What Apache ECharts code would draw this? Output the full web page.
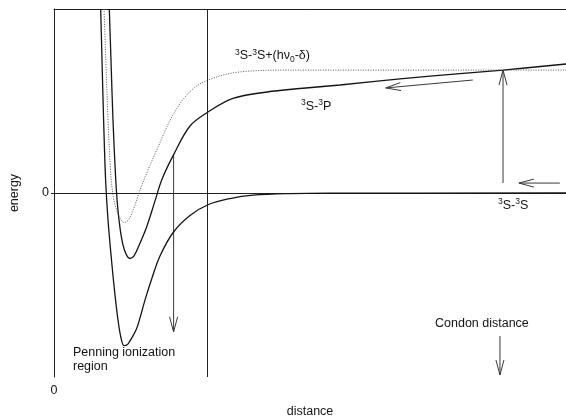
<!DOCTYPE html>
<html>
<head>
<meta charset="utf-8">
<script src="https://cdn.jsdelivr.net/npm/echarts@6/dist/echarts.min.js"></script>
<style>
  html, body { margin: 0; padding: 0; background: #fff; }
  #chart { width: 566px; height: 416px; }
</style>
</head>
<body>
<div id="chart"></div>
<script>
// Potential energy curves, [distance, energy] in arbitrary units
const groundCurve = [ // 3S-3S
  [0.912, 1.0], [0.9375, 0.723], [0.969, 0.397], [1.008, 0.071], [1.055, -0.147],
  [1.123, -0.364], [1.191, -0.554], [1.25, -0.690], [1.309, -0.788], [1.367, -0.829],
  [1.436, -0.823], [1.484, -0.804], [1.602, -0.745], [1.68, -0.679], [1.777, -0.582],
  [1.914, -0.462], [2.07, -0.342], [2.334, -0.212], [2.656, -0.122], [3.018, -0.0625],
  [3.44, -0.030], [3.887, -0.012], [4.609, -0.003], [5.39, -0.0005], [10, 0]
];
const excitedCurve = [ // 3S-3P
  [1.08, 1.0], [1.113, 0.723], [1.152, 0.397], [1.201, 0.098], [1.240, -0.065],
  [1.289, -0.190], [1.348, -0.283], [1.416, -0.337], [1.484, -0.356], [1.563, -0.342],
  [1.68, -0.272], [1.811, -0.183], [1.973, -0.043], [2.104, 0.071], [2.334, 0.207],
  [2.656, 0.364], [3.008, 0.440], [3.496, 0.514], [4.160, 0.549], [4.805, 0.568],
  [5.586, 0.587], [6.758, 0.620], [7.930, 0.649], [8.770, 0.668], [10, 0.701]
];
const dressedCurve = [ // 3S-3S + (h nu0 - delta)
  [0.977, 1.0], [1.012, 0.723], [1.055, 0.397], [1.104, 0.125], [1.152, -0.011],
  [1.211, -0.082], [1.279, -0.130], [1.367, -0.160], [1.445, -0.149], [1.523, -0.109],
  [1.602, -0.049], [1.68, 0.016], [1.836, 0.125], [2.006, 0.234], [2.324, 0.424],
  [2.656, 0.551], [3.008, 0.614], [3.633, 0.658], [4.609, 0.668], [10, 0.668]
];
// Boundary of the Penning ionization region
const penningEdge = 3.0;
// Arrows: [xFrom, yFrom, xTo, yTo]
const arrows = [
  [2.336, 0.207, 2.336, -0.755],   // decay inside the ionization region
  [8.77, 0.054, 8.77, 0.668],      // excitation at the Condon distance
  [9.88, 0.054, 9.08, 0.054],      // incoming pair on the ground curve
  [8.18, 0.614, 6.48, 0.571],      // motion along the excited curve
  [8.71, -0.777, 8.71, -0.989]     // Condon distance marker
];
const xTickValues = [0];
const xTickLabels = ['0'];
const yTickValues = [0];
const yTickLabels = ['0'];

const FONT = '"Liberation Sans", Arial, Helvetica, sans-serif';
const INK = '#141414';

const chart = echarts.init(document.getElementById('chart'), null, { renderer: 'canvas' });

function arrowItem(params, api) {
  const p1 = api.coord([api.value(0), api.value(1)]);
  const p2 = api.coord([api.value(2), api.value(3)]);
  const dx = p2[0] - p1[0], dy = p2[1] - p1[1];
  const len = Math.hypot(dx, dy) || 1;
  const ux = dx / len, uy = dy / len;
  const headLen = 15, headHalf = 4;
  const bx = p2[0] - ux * headLen, by = p2[1] - uy * headLen;
  const nx = -uy, ny = ux;
  const stroke = { stroke: '#3a3a3a', lineWidth: 1, fill: null };
  return {
    type: 'group',
    children: [
      { type: 'line', shape: { x1: p1[0], y1: p1[1], x2: p2[0], y2: p2[1] }, style: stroke },
      { type: 'polyline', shape: { points: [[bx + nx * headHalf, by + ny * headHalf], p2, [bx - nx * headHalf, by - ny * headHalf]] }, style: stroke }
    ]
  };
}

const supRich = {
  s: { fontSize: 8.5, fontFamily: FONT, color: INK, verticalAlign: 'top', lineHeight: 4 },
  b: { fontSize: 8.5, fontFamily: FONT, color: INK, verticalAlign: 'bottom', lineHeight: 10 }
};

function label(x, y, text, rich) {
  return {
    type: 'text', x: x, y: y, silent: true,
    style: {
      text: text, fill: INK, fontSize: 12.5, fontFamily: FONT,
      lineHeight: 16, verticalAlign: 'top', rich: rich
    }
  };
}

const option = {
  animation: false,
  backgroundColor: '#fff',
  grid: { left: 54, right: 0, top: 9, bottom: 39, outerBoundsMode: 'none', containLabel: false },
  xAxis: [
    {
      type: 'value', min: 0, max: 10,
      name: 'distance', nameLocation: 'middle', nameGap: 28,
      nameTextStyle: { fontSize: 12.5, fontFamily: FONT, color: INK },
      axisLine: { show: true, lineStyle: { color: '#222', width: 1 } },
      axisTick: { show: false },
      splitLine: { show: false },
      axisLabel: {
        customValues: xTickValues, margin: 7, fontSize: 12.5, fontFamily: FONT, color: INK,
        formatter: v => xTickLabels[xTickValues.indexOf(v)] ?? ''
      }
    },
    {
      type: 'value', min: 0, max: 10, position: 'top',
      axisLine: { show: true, onZero: false, lineStyle: { color: '#222', width: 1 } },
      axisTick: { show: false }, axisLabel: { show: false }, splitLine: { show: false }
    }
  ],
  yAxis: {
    type: 'value', min: -1, max: 1, interval: 1,
    name: 'energy', nameLocation: 'middle', nameGap: 33, nameRotate: 90,
    nameTextStyle: { fontSize: 12.5, fontFamily: FONT, color: INK },
    axisLine: { show: true, lineStyle: { color: '#222', width: 1 } },
    axisTick: { show: true, customValues: yTickValues, length: 3, lineStyle: { color: '#222' } },
    splitLine: { show: false },
    axisLabel: {
      customValues: yTickValues, margin: 5, fontSize: 12.5, fontFamily: FONT, color: INK,
      formatter: v => yTickLabels[yTickValues.indexOf(v)] ?? ''
    }
  },
  series: [
    {
      name: '3S-3S', type: 'line', data: groundCurve, showSymbol: false,
      smooth: 0.35,
      lineStyle: { color: INK, width: 1.3 },
      markLine: {
        silent: true, symbol: ['none', 'none'], label: { show: false },
        lineStyle: { color: '#222', width: 1, type: 'solid' },
        data: [{ xAxis: penningEdge }]
      }
    },
    {
      name: '3S-3P', type: 'line', data: excitedCurve, showSymbol: false,
      smooth: 0.35,
      lineStyle: { color: INK, width: 1.3 }
    },
    {
      name: '3S-3S+(hv0-d)', type: 'line', data: dressedCurve, showSymbol: false,
      smooth: 0.35,
      lineStyle: { color: '#555', width: 1, type: [1, 1.5] }
    },
    {
      name: 'arrows', type: 'custom', data: arrows, renderItem: arrowItem,
      encode: { x: [0, 2], y: [1, 3] }, clip: false, silent: true
    }
  ],
  graphic: [
    label(235, 48, '{s|3}S-{s|3}S+(hν{b|0}-δ)', supRich),
    label(301, 98.5, '{s|3}S-{s|3}P', supRich),
    label(498, 197.5, '{s|3}S-{s|3}S', supRich),
    label(435, 315.5, 'Condon distance', {}),
    {
      type: 'text', x: 73, y: 345, silent: true,
      style: { text: 'Penning ionization\nregion', fill: INK, fontSize: 12.5, fontFamily: FONT, lineHeight: 14.5, verticalAlign: 'top' }
    }
  ]
};

chart.setOption(option);
</script>
</body>
</html>
